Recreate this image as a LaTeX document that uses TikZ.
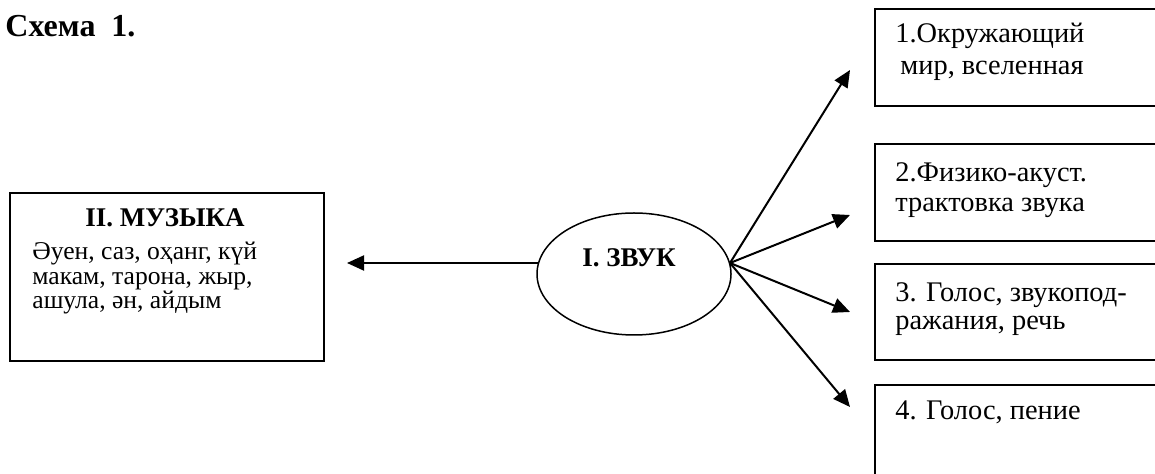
\documentclass[tikz,border=0pt]{standalone}
\usepackage{fontspec}
\setmainfont{Liberation Serif}
\usetikzlibrary{arrows.meta,shapes.geometric}
\begin{document}
\begin{tikzpicture}[x=0.5pt,y=-0.5pt,
  box/.style={draw, line width=0.9pt, inner sep=0pt, anchor=north west},
  ltxt/.style={anchor=base west, inner sep=0pt, font=\fontsize{12.8}{14}\selectfont},
  rtxt/.style={anchor=base west, inner sep=0pt, font=\fontsize{14.2}{16}\selectfont},
  btxt/.style={anchor=base, inner sep=0pt, font=\fontsize{13.5}{15}\selectfont\bfseries},
  arr/.style={-{Triangle[length=8.5pt,width=7.5pt]}, line width=1pt}]
\useasboundingbox (0,0) rectangle (1155,474);
\clip (0,0) rectangle (1155,474);

% title
\node[anchor=base west, inner sep=0pt, font=\fontsize{16}{18}\selectfont\bfseries] (title) at (5,37) {Схема\ \ 1.};

% left box: music
\node[box, minimum width=157pt, minimum height=84pt] (music) at (9,192) {};
\node[btxt] (musichead) at (165,227) {II. МУЗЫКА};
\node[ltxt] (m1) at (32,260) {Әуен, саз, оҳанг, күй};
\node[ltxt] (m2) at (32,285) {макам, тарона, жыр,};
\node[ltxt] (m3) at (32,309) {ашула, ән, айдым};

% central ellipse: sound
\node[ellipse, draw, line width=0.75pt, minimum width=97pt, minimum height=61pt, inner sep=0pt] (zvuk) at (634,274) {};
\node[btxt] (zvuklbl) at (629,267) {I. ЗВУК};

% right boxes
\node[box, minimum width=150pt, minimum height=48.5pt] (b1) at (874,8) {};
\node[box, minimum width=150pt, minimum height=48.5pt] (b2) at (874,143) {};
\node[box, minimum width=150pt, minimum height=48pt] (b3) at (874,263) {};
\node[box, minimum width=150pt, minimum height=60pt] (b4) at (874,384) {};

\node[rtxt] (t1a) at (895,43) {1.Окружающий};
\node[rtxt] (t1b) at (900,75) {мир, вселенная};
\node[rtxt] (t2a) at (895,182) {2.Физико-акуст.};
\node[rtxt] (t2b) at (895,212) {трактовка звука};
\node[rtxt] (t3a) at (895,302) {3. Голос, звукопод-};
\node[rtxt] (t3b) at (895,330) {ражания, речь};
\node[rtxt] (t4a) at (895,420) {4. Голос, пение};

% connectors
\coordinate (hubL) at (538,263);
\coordinate (hubR) at (730,263);
\coordinate (tipM) at (347,263);
\coordinate (tip1) at (850,70);
\coordinate (tip2) at (850,215);
\coordinate (tip3) at (850,312);
\coordinate (tip4) at (850,407);

\draw[arr] (hubL) -- (tipM);
\draw[arr] (hubR) -- (tip1);
\draw[arr] (hubR) -- (tip2);
\draw[arr] (hubR) -- (tip3);
\draw[arr] (hubR) -- (tip4);
\end{tikzpicture}
\end{document}
